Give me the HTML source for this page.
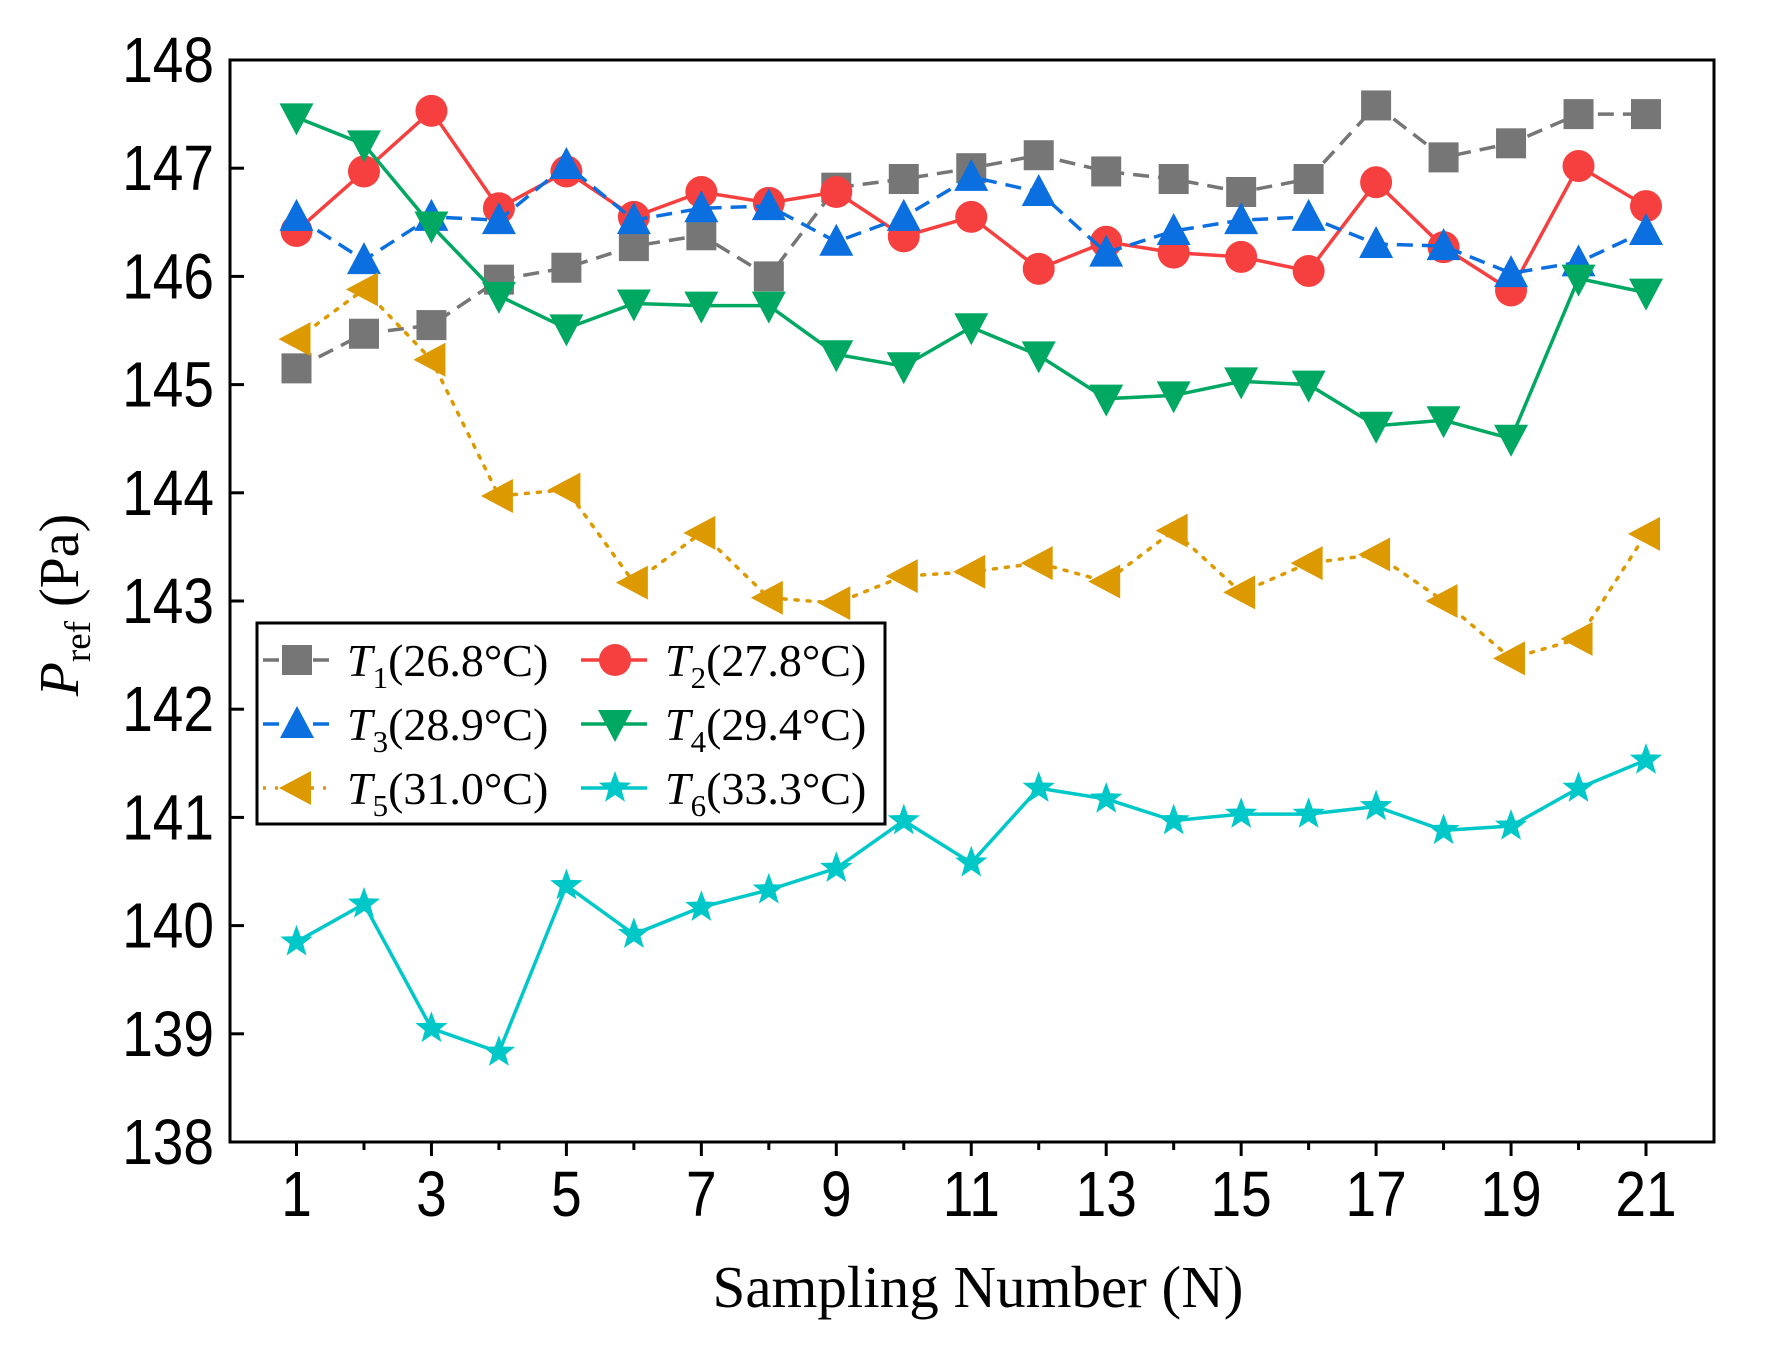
<!DOCTYPE html>
<html><head><meta charset="utf-8"><style>
html,body{margin:0;padding:0;background:#fff;}
svg{display:block;}
</style></head><body>
<svg id="chart" width="1766" height="1353" viewBox="0 0 1766 1353" xmlns="http://www.w3.org/2000/svg"></svg>
<script>
const categories=[1,2,3,4,5,6,7,8,9,10,11,12,13,14,15,16,17,18,19,20,21];
const t1=[145.15,145.47,145.55,145.97,146.08,146.28,146.38,146.0,146.82,146.9,147.0,147.12,146.97,146.9,146.78,146.9,147.58,147.1,147.23,147.5,147.5];
const t2=[146.42,146.97,147.53,146.63,146.97,146.55,146.78,146.68,146.78,146.37,146.55,146.07,146.32,146.22,146.18,146.05,146.87,146.27,145.87,147.02,146.65];
const t3=[146.55,146.15,146.55,146.52,147.03,146.52,146.63,146.65,146.32,146.55,146.92,146.78,146.22,146.42,146.52,146.55,146.3,146.28,146.03,146.13,146.42];
const t4=[147.47,147.22,146.47,145.82,145.52,145.75,145.73,145.73,145.28,145.17,145.53,145.27,144.87,144.9,145.03,145.0,144.62,144.67,144.5,145.98,145.85];
const t5=[145.42,145.88,145.23,143.97,144.03,143.17,143.63,143.03,142.98,143.23,143.27,143.35,143.18,143.65,143.08,143.35,143.43,143.0,142.47,142.65,143.62];
const t6=[139.85,140.2,139.05,138.83,140.37,139.92,140.17,140.33,140.53,140.97,140.58,141.27,141.17,140.97,141.03,141.03,141.1,140.88,140.92,141.27,141.53];
const yTicks=[138,139,140,141,142,143,144,145,146,147,148];
const xTickLabels=[1,3,5,7,9,11,13,15,17,19,21];

const NS="http://www.w3.org/2000/svg";
const svg=document.getElementById('chart');
const L=230,R=1714,T=60,B=1142;
const xs=v=>296.5+(v-1)*(1646-296.5)/20;
const ys=v=>B-(v-138)*(B-T)/10;
function mk(tag,attrs,parent){const e=document.createElementNS(NS,tag);for(const k in attrs)e.setAttribute(k,attrs[k]);(parent||svg).appendChild(e);return e;}

const frame=mk('rect',{x:L,y:T,width:R-L,height:B-T,fill:'none',stroke:'#000','stroke-width':3});



yTicks.forEach(v=>{
  const tk=mk('line',{x1:L,x2:L+14,y1:ys(v),y2:ys(v),stroke:'#000','stroke-width':3});
  
  
  const tl=mk('text',{transform:`translate(${L-16},${ys(v)+22}) scale(0.86,1)`,'text-anchor':'end','font-family':'Liberation Sans, sans-serif','font-size':64});
  tl.textContent=v;
  
  
});
categories.forEach(c=>{
  const major=c%2===1;
  const tk=mk('line',{x1:xs(c),x2:xs(c),y1:B,y2:B+(major?14:8),stroke:'#000','stroke-width':3});
  
  
});
xTickLabels.forEach(c=>{
  const tl=mk('text',{transform:`translate(${xs(c)},1216) scale(0.86,1)`,'text-anchor':'middle','font-family':'Liberation Sans, sans-serif','font-size':64});
  tl.textContent=c;
  
  
});
const xt=mk('text',{x:978,y:1307,'text-anchor':'middle','font-family':'Liberation Serif, serif','font-size':59});
xt.textContent='Sampling Number (N)';


const yt=mk('text',{transform:'translate(78,605) rotate(-90)','text-anchor':'middle','font-family':'Liberation Serif, serif','font-size':56});
yt.innerHTML='<tspan font-style="italic">P</tspan><tspan font-size="37" dy="12">ref</tspan><tspan dy="-12">  (Pa)</tspan>';



function marker(type,x,y,color,g){
  const s=15;
  if(type==='square') return mk('rect',{x:x-s,y:y-s,width:2*s,height:2*s,fill:color},g);
  if(type==='circle') return mk('circle',{cx:x,cy:y,r:s+1,fill:color},g);
  if(type==='up') return mk('polygon',{points:`${x},${y-s-3} ${x-s-2},${y+s-1} ${x+s+2},${y+s-1}`,fill:color},g);
  if(type==='down') return mk('polygon',{points:`${x},${y+s+3} ${x-s-2},${y-s+1} ${x+s+2},${y-s+1}`,fill:color},g);
  if(type==='left') return mk('polygon',{points:`${x-s-3},${y} ${x+s-1},${y-s-2} ${x+s-1},${y+s+2}`,fill:color},g);
  if(type==='star'){let p=[];for(let i=0;i<10;i++){const r=i%2?7:17;const a=-Math.PI/2+i*Math.PI/5;p.push((x+r*Math.cos(a)).toFixed(1)+','+(y+r*Math.sin(a)).toFixed(1));}
    return mk('polygon',{points:p.join(' '),fill:color},g);}
}
const series=[
  {name:'t1',data:t1,color:'#767676',dash:'16,9',m:'square',label:'1',temp:'(26.8°C)'},
  {name:'t2',data:t2,color:'#f5403f',dash:'',m:'circle',label:'2',temp:'(27.8°C)'},
  {name:'t3',data:t3,color:'#0b6fe0',dash:'16,9',m:'up',label:'3',temp:'(28.9°C)'},
  {name:'t4',data:t4,color:'#00a862',dash:'',m:'down',label:'4',temp:'(29.4°C)'},
  {name:'t5',data:t5,color:'#dc9a00',dash:'3,9',m:'left',label:'5',temp:'(31.0°C)'},
  {name:'t6',data:t6,color:'#00c8c8',dash:'',m:'star',label:'6',temp:'(33.3°C)'}
];
series.forEach(s=>{
  const g=mk('g',{});
  
  
  const pts=s.data.map((v,i)=>xs(categories[i])+','+ys(v)).join(' ');
  const pl=mk('polyline',{points:pts,fill:'none',stroke:s.color,'stroke-width':3.5,'stroke-dasharray':s.dash,'stroke-linecap':s.dash==='3,9'?'round':'butt'},g);
  
  
  s.data.forEach((v,i)=>{
    const m=marker(s.m,xs(categories[i]),ys(v),s.color,g);
    
    
  });
});
const lg=mk('g',{});


const lb=mk('rect',{x:257,y:623,width:628,height:201,fill:'#fff',stroke:'#000','stroke-width':3},lg);


series.forEach((s,i)=>{
  const col=i%2,row=Math.floor(i/2);
  const x0=261+col*318,y0=660+row*64;
  const le=mk('g',{},lg);
  
  
  mk('line',{x1:x0+2,x2:x0+68,y1:y0,y2:y0,stroke:s.color,'stroke-width':3.5,'stroke-dasharray':s.dash},le);
  marker(s.m,x0+36,y0,s.color,le);
  const t=mk('text',{x:x0+86,y:y0+16,'font-family':'Liberation Serif, serif','font-size':46},le);
  t.innerHTML='<tspan font-style="italic">T</tspan><tspan font-size="31" dy="12">'+s.label+'</tspan><tspan dy="-12">'+s.temp+'</tspan>';
});
</script>
</body></html>
